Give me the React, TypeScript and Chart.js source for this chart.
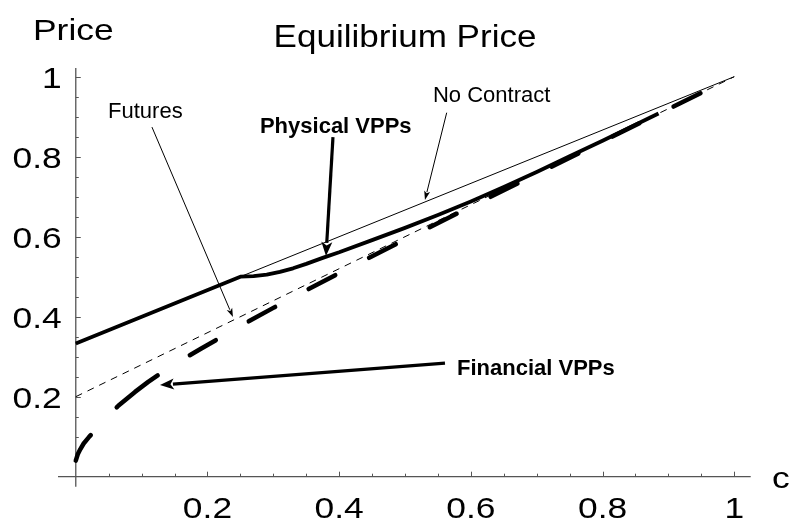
import React, { useEffect, useRef } from "react";
import { Chart, registerables } from "chart.js";

Chart.register(...registerables);

// ---- data (c = contract level, p = equilibrium price) ----
const futuresC = [0, 1];
const futuresP = [0.2, 1];

const noContractC = [0, 0.25, 1];
const noContractP = [0.333, 0.5, 1];

const physicalC = [0, 0.25, 0.27, 0.29, 0.31, 0.33, 0.35, 0.375, 0.4, 0.45, 0.5, 0.55, 0.6, 0.65, 0.7, 0.75, 0.8, 0.885];
const physicalP = [0.333, 0.5, 0.5015, 0.505, 0.512, 0.521, 0.532, 0.547, 0.561, 0.5915, 0.622, 0.654, 0.688, 0.724, 0.762, 0.801, 0.84, 0.908];

const financialC = [0, 0.003, 0.007, 0.012, 0.02, 0.03, 0.045, 0.065, 0.09, 0.11, 0.134, 0.16, 0.19, 0.224, 0.26, 0.3, 0.35, 0.4, 0.45, 0.5, 0.6, 0.7, 0.8, 0.9, 1];
const financialP = [0.04, 0.056, 0.069, 0.083, 0.099, 0.117, 0.145, 0.178, 0.212, 0.237, 0.264, 0.291, 0.32, 0.352, 0.386, 0.422, 0.466, 0.509, 0.551, 0.593, 0.675, 0.757, 0.838, 0.919, 1];

const xTickLabels = ["0.2", "0.4", "0.6", "0.8", "1"];
const yTickLabels = ["0.2", "0.4", "0.6", "0.8", "1"];
const majorTicks = [0.2, 0.4, 0.6, 0.8, 1];
const minorTicks = [0.05, 0.1, 0.15, 0.25, 0.3, 0.35, 0.45, 0.5, 0.55, 0.65, 0.7, 0.75, 0.85, 0.9, 0.95];

// annotations (text anchor and arrow start/tip in data units)
const annotationLabels = ["Futures", "Physical VPPs", "No Contract", "Financial VPPs"];
const annotationTextC = [0.049, 0.2797, 0.5424, 0.579];
const annotationTextP = [0.898, 0.859, 0.937, 0.254];
const annotationBold = [false, true, false, true];
const arrowStartC = [0.1157, 0.3906, 0.5633, 0.5607];
const arrowStartP = [0.874, 0.849, 0.91, 0.284];
const arrowTipC = [0.2387, 0.38, 0.5303, 0.1279];
const arrowTipP = [0.399, 0.552, 0.692, 0.229];

const financialDash = [30, 38, 52, 38, 30, 38, 30, 38, 30, 38, 30, 38, 30, 38, 30, 38, 30, 38, 30, 38, 30, 38, 30, 38, 30, 38];

const toPoints = (xs: number[], ys: number[]) => xs.map((x, i) => ({ x, y: ys[i] }));

const FONT = "'Liberation Sans', Arial, Helvetica, sans-serif";

function stretchedText(ctx: CanvasRenderingContext2D, text: string, x: number, y: number, sx: number, align: CanvasTextAlign) {
  ctx.save();
  ctx.translate(x, y);
  ctx.scale(sx, 1);
  ctx.textAlign = align;
  ctx.textBaseline = "alphabetic";
  ctx.fillText(text, 0, 0);
  ctx.restore();
}

function drawArrow(ctx: CanvasRenderingContext2D, x0: number, y0: number, x1: number, y1: number, lw: number, hl: number, hw: number) {
  const dx = x1 - x0, dy = y1 - y0;
  const len = Math.hypot(dx, dy);
  const ux = dx / len, uy = dy / len;
  const bx = x1 - ux * hl, by = y1 - uy * hl;
  ctx.save();
  ctx.strokeStyle = "#000";
  ctx.fillStyle = "#000";
  ctx.lineWidth = lw;
  ctx.lineCap = "butt";
  ctx.beginPath();
  ctx.moveTo(x0, y0);
  ctx.lineTo(bx + ux * 1, by + uy * 1);
  ctx.stroke();
  ctx.beginPath();
  ctx.moveTo(x1, y1);
  ctx.lineTo(bx - uy * hw, by + ux * hw);
  ctx.lineTo(bx + ux * hl * 0.25, by + uy * hl * 0.25);
  ctx.lineTo(bx + uy * hw, by - ux * hw);
  ctx.closePath();
  ctx.fill();
  ctx.restore();
}

const axesPlugin = {
  id: "mathematicaAxes",
  beforeDatasetsDraw(chart: any) {
    const ctx: CanvasRenderingContext2D = chart.ctx;
    const xs = chart.scales.x;
    const ys = chart.scales.y;
    const x0 = xs.getPixelForValue(0);
    const y0 = ys.getPixelForValue(0);
    ctx.save();
    ctx.strokeStyle = "#555";
    ctx.lineWidth = 1.3;
    ctx.beginPath();
    ctx.moveTo(xs.left, y0);
    ctx.lineTo(xs.right, y0);
    ctx.moveTo(x0, ys.bottom);
    ctx.lineTo(x0, ys.top);
    ctx.stroke();
    ctx.lineWidth = 1;
    ctx.beginPath();
    majorTicks.forEach((v) => {
      const px = Math.round(xs.getPixelForValue(v)) + 0.5;
      ctx.moveTo(px, y0);
      ctx.lineTo(px, y0 - 5);
      const py = Math.round(ys.getPixelForValue(v)) + 0.5;
      ctx.moveTo(x0, py);
      ctx.lineTo(x0 + 5, py);
    });
    minorTicks.forEach((v) => {
      const px = Math.round(xs.getPixelForValue(v)) + 0.5;
      ctx.moveTo(px, y0);
      ctx.lineTo(px, y0 - 3);
      const py = Math.round(ys.getPixelForValue(v)) + 0.5;
      ctx.moveTo(x0, py);
      ctx.lineTo(x0 + 3, py);
    });
    ctx.stroke();

    ctx.fillStyle = "#000";
    ctx.font = `30px ${FONT}`;
    majorTicks.forEach((v, i) => {
      stretchedText(ctx, xTickLabels[i], xs.getPixelForValue(v), y0 + 41, 1.18, "center");
      stretchedText(ctx, yTickLabels[i], x0 - 14, ys.getPixelForValue(v) + 11, 1.18, "right");
    });
    // axis labels and title
    stretchedText(ctx, "Price", 33, 40, 1.18, "left");
    stretchedText(ctx, "c", 772, 488, 1.18, "left");
    ctx.font = `31px ${FONT}`;
    stretchedText(ctx, "Equilibrium Price", 405, 46.7, 1.13, "center");
    ctx.restore();
  },
  afterDatasetsDraw(chart: any) {
    const ctx: CanvasRenderingContext2D = chart.ctx;
    const xs = chart.scales.x;
    const ys = chart.scales.y;
    ctx.save();
    ctx.fillStyle = "#000";
    annotationLabels.forEach((label, i) => {
      ctx.font = `${annotationBold[i] ? "bold " : ""}22px ${FONT}`;
      ctx.textAlign = "left";
      ctx.textBaseline = "alphabetic";
      ctx.fillText(label, xs.getPixelForValue(annotationTextC[i]), ys.getPixelForValue(annotationTextP[i]));
      const thick = annotationBold[i];
      drawArrow(
        ctx,
        xs.getPixelForValue(arrowStartC[i]),
        ys.getPixelForValue(arrowStartP[i]),
        xs.getPixelForValue(arrowTipC[i]),
        ys.getPixelForValue(arrowTipP[i]),
        thick ? 3.2 : 1,
        thick ? 14 : 9,
        thick ? 5.5 : 3
      );
    });
    ctx.restore();
  },
};

export default function App() {
  const canvasRef = useRef<HTMLCanvasElement | null>(null);

  useEffect(() => {
    if (!canvasRef.current) return;
    const chart = new Chart(canvasRef.current, {
      type: "scatter",
      data: {
        datasets: [
          {
            label: "Futures",
            data: toPoints(futuresC, futuresP),
            showLine: true,
            borderColor: "#000",
            borderWidth: 1,
            borderDash: [7, 6],
            pointRadius: 0,
            tension: 0,
          },
          {
            label: "No Contract",
            data: toPoints(noContractC, noContractP),
            showLine: true,
            borderColor: "#000",
            borderWidth: 1,
            pointRadius: 0,
            tension: 0,
          },
          {
            label: "Physical VPPs",
            data: toPoints(physicalC, physicalP),
            showLine: true,
            borderColor: "#000",
            borderWidth: 3.8,
            borderJoinStyle: "round",
            pointRadius: 0,
            tension: 0,
          },
          {
            label: "Financial VPPs",
            data: toPoints(financialC, financialP),
            showLine: true,
            borderColor: "#000",
            borderWidth: 4.5,
            borderDash: financialDash,
            borderCapStyle: "round",
            borderJoinStyle: "round",
            pointRadius: 0,
            tension: 0,
          },
        ],
      },
      options: {
        animation: false,
        responsive: true,
        maintainAspectRatio: false,
        layout: { padding: { left: 58, right: 40.3, top: 67.9, bottom: 36.3 } },
        plugins: { legend: { display: false }, tooltip: { enabled: false }, title: { display: false } },
        scales: {
          x: { type: "linear", min: -0.027, max: 1.025, display: false },
          y: { type: "linear", min: -0.025, max: 1.022, display: false },
        },
      },
      plugins: [axesPlugin],
    } as any);
    return () => chart.destroy();
  }, []);

  return (
    <div style={{ position: "fixed", left: 0, top: 0, width: 791, height: 523 }}>
      <canvas ref={canvasRef} style={{ display: "block" }} />
    </div>
  );
}
